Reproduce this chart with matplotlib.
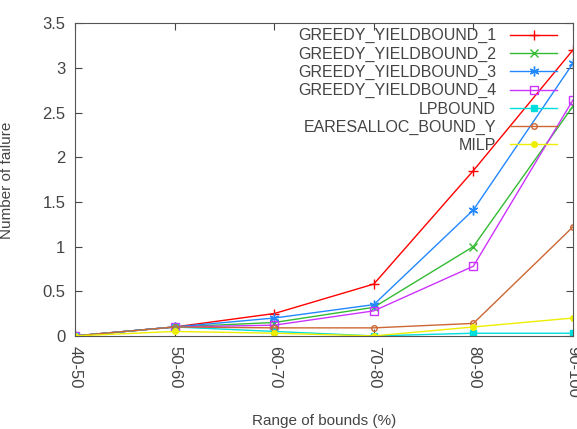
import numpy as np
import matplotlib.pyplot as plt

plt.rcParams['font.family'] = ['Liberation Sans', 'DejaVu Sans']

ranges = ['40-50', '50-60', '60-70', '70-80', '80-90', '90-100']
greedy_1 = [0, 0.10, 0.25, 0.58, 1.85, 3.20]
greedy_2 = [0, 0.10, 0.15, 0.32, 1.00, 2.57]
greedy_3 = [0, 0.10, 0.20, 0.35, 1.41, 3.05]
greedy_4 = [0, 0.10, 0.12, 0.28, 0.78, 2.64]
lpbound = [0, 0.10, 0.05, 0, 0.03, 0.03]
earesalloc = [0, 0.10, 0.09, 0.09, 0.14, 1.22]
milp = [0, 0.05, 0.03, 0, 0.10, 0.20]

asterisk = (6, 2, 0)
series = [
    ('GREEDY_YIELDBOUND_1', greedy_1, '#ff0000', '+', 'none', 7),
    ('GREEDY_YIELDBOUND_2', greedy_2, '#33bb33', 'x', 'none', 6),
    ('GREEDY_YIELDBOUND_3', greedy_3, '#2288ff', asterisk, 'none', 7),
    ('GREEDY_YIELDBOUND_4', greedy_4, '#cc33ff', 's', 'none', 6),
    ('LPBOUND', lpbound, '#00dddd', 's', 'full', 5),
    ('EARESALLOC_BOUND_Y', earesalloc, '#cc6633', 'o', 'none', 4),
    ('MILP', milp, '#eeee00', 'o', 'full', 4),
]

fig = plt.figure(figsize=(5.77, 4.29), dpi=100)
ax = fig.add_axes([0.13, 0.217, 0.863, 0.729])
x = np.arange(len(ranges))
for name, vals, col, mk, fill, ms in series:
    ax.plot(x, vals, color=col, marker=mk, markersize=ms, fillstyle=fill,
            markeredgewidth=1.0, linewidth=1.0, label=name)

ax.set_xlim(0, len(ranges) - 1)
ax.set_ylim(0, 3.5)
ax.set_xticks(x)
ax.set_xticklabels(ranges, rotation=-90)
ax.set_yticks(np.arange(0, 3.51, 0.5))
ax.set_yticklabels(['0', '0.5', '1', '1.5', '2', '2.5', '3', '3.5'])
ax.tick_params(direction='in', top=True, right=True, length=5, labelsize=12,
               colors='#444444', labelcolor='#444444', pad=7)
for sp in ax.spines.values():
    sp.set_color('#555555')

# axis titles placed like the gnuplot output
fig.text(324 / 577, 1 - 421 / 429, 'Range of bounds (%)', fontsize=11,
         color='#444444', ha='center', va='center')
fig.text(7 / 577, 1 - 180 / 429, 'Number of failure', fontsize=11,
         color='#444444', ha='center', va='center', rotation=90)

leg = ax.legend(loc='upper right', bbox_to_anchor=(0.985, 1.012), markerfirst=False,
                frameon=False, fontsize=11.5, handlelength=2.9, labelspacing=0.2,
                borderaxespad=0.15, handletextpad=0.9)
for t in leg.get_texts():
    t.set_color('#444444')
    t.set_ha('right')

fig.savefig('out.png', dpi=100)
